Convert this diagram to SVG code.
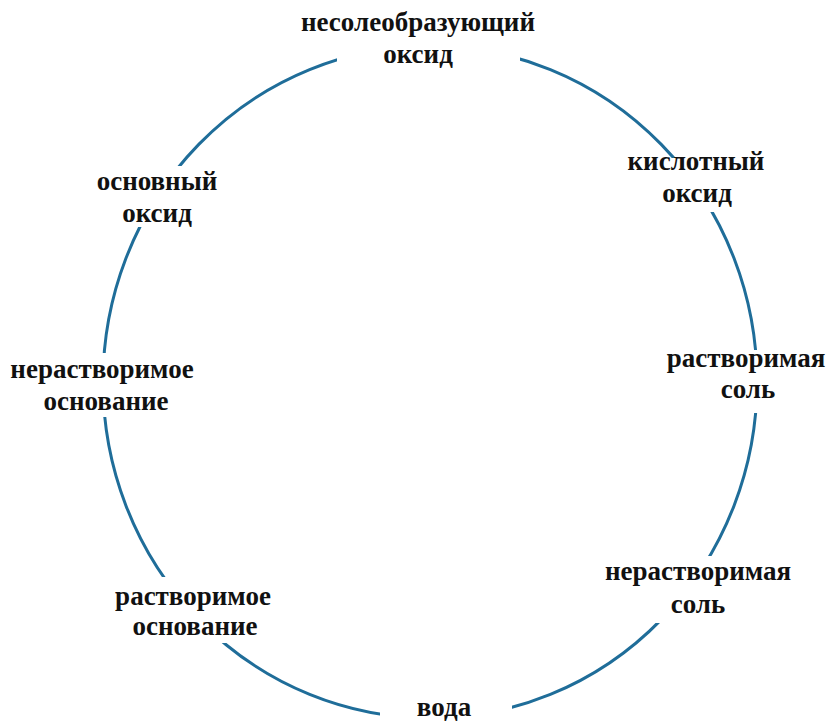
<svg xmlns="http://www.w3.org/2000/svg" width="830" height="724" viewBox="0 0 830 724">
<style>
.ring{fill:none;stroke:#1f6d99;stroke-width:3}
.bg{fill:#fff}
.lbl{font-family:"Liberation Serif","Times New Roman",serif;font-weight:bold;font-size:27px;fill:#111;text-anchor:middle}
</style>
<rect width="830" height="724" fill="#fff"/>
<g id="connectors">
<ellipse class="ring" cx="430" cy="382" rx="327" ry="336"/>
</g>
<g id="n1"><rect class="bg" x="337" y="0" width="183" height="64"/><text class="lbl" x="418" y="31">несолеобразующий</text><text class="lbl" x="418" y="63">оксид</text></g>
<g id="n2"><rect class="bg" x="622" y="158" width="150" height="54"/><text class="lbl" x="696" y="170">кислотный</text><text class="lbl" x="697" y="202">оксид</text></g>
<g id="n3"><rect class="bg" x="92" y="166" width="130" height="61"/><text class="lbl" x="157" y="190">основный</text><text class="lbl" x="157" y="222">оксид</text></g>
<g id="n4"><rect class="bg" x="5" y="353" width="195" height="64"/><text class="lbl" x="102" y="378">нерастворимое</text><text class="lbl" x="106" y="410">основание</text></g>
<g id="n5"><rect class="bg" x="662" y="350" width="168" height="63"/><text class="lbl" x="746" y="367">растворимая</text><text class="lbl" x="748" y="398">соль</text></g>
<g id="n6"><rect class="bg" x="110" y="577" width="168" height="66"/><text class="lbl" x="193" y="605">растворимое</text><text class="lbl" x="195" y="635">основание</text></g>
<g id="n7"><rect class="bg" x="600" y="556" width="197" height="67"/><text class="lbl" x="698" y="580">нерастворимая</text><text class="lbl" x="698" y="613">соль</text></g>
<g id="n8"><rect class="bg" x="380" y="700" width="132" height="24"/><text class="lbl" x="444" y="716">вода</text></g>
</svg>
